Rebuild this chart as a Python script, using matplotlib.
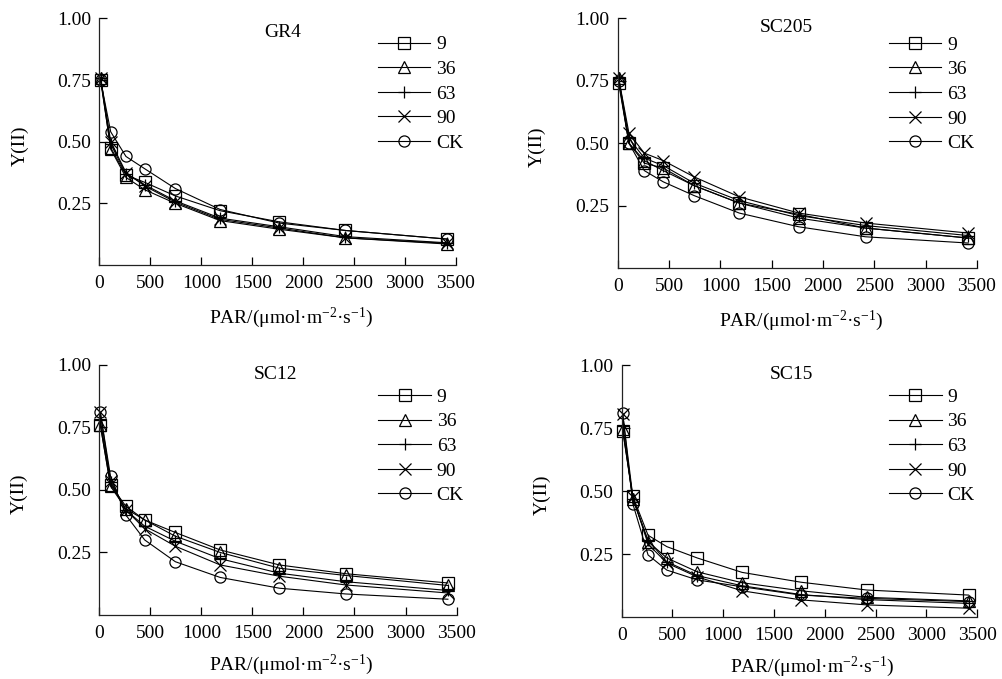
import matplotlib
matplotlib.use('Agg')
import matplotlib.pyplot as plt

plt.rcParams['font.family'] = ['Liberation Serif', 'DejaVu Serif']
plt.rcParams['mathtext.fontset'] = 'custom'
plt.rcParams['mathtext.rm'] = 'Liberation Serif'
plt.rcParams['mathtext.it'] = 'Liberation Serif:italic'

# PAR levels (umol m-2 s-1)
par = [10, 110, 260, 445, 745, 1185, 1765, 2415, 3415]
series_labels = ['9', '36', '63', '90', 'CK']
markers = ['s', '^', '+', 'x', 'o']

# Y(II) per cultivar, one list per treatment (9, 36, 63, 90, CK)
gr4 = [
    [0.75, 0.475, 0.365, 0.335, 0.28, 0.22, 0.175, 0.14, 0.105],
    [0.76, 0.47, 0.355, 0.305, 0.25, 0.18, 0.145, 0.11, 0.085],
    [0.76, 0.49, 0.37, 0.325, 0.26, 0.19, 0.155, 0.115, 0.09],
    [0.76, 0.50, 0.375, 0.32, 0.255, 0.185, 0.15, 0.11, 0.088],
    [0.75, 0.54, 0.44, 0.39, 0.31, 0.225, 0.17, 0.14, 0.105],
]
sc205 = [
    [0.74, 0.50, 0.42, 0.40, 0.33, 0.26, 0.215, 0.16, 0.12],
    [0.76, 0.50, 0.43, 0.39, 0.33, 0.26, 0.20, 0.16, 0.12],
    [0.76, 0.52, 0.44, 0.41, 0.34, 0.27, 0.21, 0.17, 0.13],
    [0.76, 0.54, 0.46, 0.43, 0.365, 0.285, 0.22, 0.18, 0.14],
    [0.75, 0.50, 0.39, 0.345, 0.29, 0.22, 0.165, 0.125, 0.10],
]
sc12 = [
    [0.76, 0.52, 0.435, 0.38, 0.33, 0.26, 0.20, 0.165, 0.128],
    [0.76, 0.515, 0.425, 0.38, 0.315, 0.25, 0.187, 0.158, 0.118],
    [0.78, 0.53, 0.42, 0.355, 0.295, 0.225, 0.167, 0.133, 0.098],
    [0.81, 0.535, 0.42, 0.345, 0.275, 0.20, 0.155, 0.12, 0.088],
    [0.81, 0.555, 0.40, 0.30, 0.213, 0.15, 0.107, 0.084, 0.063],
]
sc15 = [
    [0.74, 0.48, 0.325, 0.28, 0.235, 0.178, 0.139, 0.108, 0.088],
    [0.745, 0.47, 0.30, 0.235, 0.18, 0.137, 0.105, 0.079, 0.065],
    [0.76, 0.47, 0.305, 0.22, 0.165, 0.125, 0.09, 0.07, 0.055],
    [0.805, 0.478, 0.29, 0.215, 0.16, 0.105, 0.069, 0.049, 0.036],
    [0.808, 0.45, 0.247, 0.187, 0.148, 0.121, 0.088, 0.075, 0.062],
]

xticks = [0, 500, 1000, 1500, 2000, 2500, 3000, 3500]
yticks = [0.25, 0.50, 0.75, 1.00]

# name, data, axes rect, title pos, legend pos, xlabel pos
panels = [
    ('GR4', gr4, [0.0992, 0.6097, 0.3554, 0.3633], (0.515, 0.944), (0.781, 0.929), (0.537, -0.213)),
    ('SC205', sc205, [0.6158, 0.6053, 0.3582, 0.3677], (0.47, 0.962), (0.755, 0.929), (0.512, -0.21)),
    ('SC12', sc12, [0.0990, 0.0943, 0.3562, 0.3682], (0.4925, 0.962), (0.781, 0.907), (0.537, -0.2)),
    ('SC15', sc15, [0.6198, 0.0909, 0.3545, 0.3715], (0.478, 0.962), (0.752, 0.908), (0.535, -0.196)),
]

fs = 14
fig = plt.figure(figsize=(10.03, 6.79), dpi=100)

for name, data, rect, tpos, lpos, xlpos in panels:
    ax = fig.add_axes(rect)
    for vals, lab, m in zip(data, series_labels, markers):
        ax.plot(par, vals, color='black', lw=0.8, marker=m, markersize=8,
                markerfacecolor='none', markeredgecolor='black', markeredgewidth=0.9,
                label=lab, clip_on=False)
    ax.set_xlim(0, 3500)
    ax.set_ylim(0, 1)
    ax.set_xticks(xticks)
    ax.set_yticks(yticks)
    ax.set_yticklabels(['%.2f' % v for v in yticks])
    ax.spines['top'].set_visible(False)
    ax.spines['right'].set_visible(False)
    for s in ('left', 'bottom'):
        ax.spines[s].set_linewidth(0.9)
        ax.spines[s].set_color('#222222')
    ax.tick_params(axis='both', direction='in', length=6, width=0.9, labelsize=fs, colors='black')
    ax.tick_params(axis='x', pad=7)
    ax.tick_params(axis='y', pad=6)
    ax.text(tpos[0], tpos[1], name, transform=ax.transAxes, ha='center', va='center', fontsize=fs)
    ax.set_xlabel('PAR/(\u03bcmol\u00b7m$^{-2}$\u00b7s$^{-1}$)', fontsize=fs, va='center')
    ax.xaxis.set_label_coords(*xlpos)
    ax.set_ylabel('Y(II)', fontsize=fs, va='center')
    ax.yaxis.set_label_coords(-0.223, 0.484)
    ax.legend(loc='upper left', bbox_to_anchor=lpos, frameon=False, fontsize=fs,
              handlelength=2.7, handletextpad=0.3, labelspacing=0.36,
              borderpad=0, borderaxespad=0)

fig.savefig('out.png', dpi=100)
